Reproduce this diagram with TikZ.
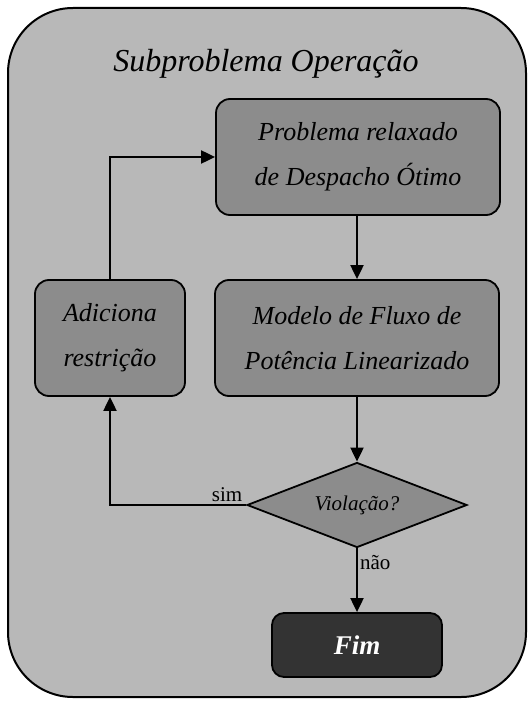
\documentclass[tikz,border=0pt]{standalone}
\usepackage{fontspec}
\setmainfont{Liberation Serif}
\usetikzlibrary{shapes.geometric,arrows.meta}

\begin{document}
\begin{tikzpicture}[x=1pt,y=-1pt,
  frame/.style={draw=black, line width=2pt, fill=black!28, rounded corners=65pt},
  procbox/.style={draw=black, line width=1.8pt, fill=black!45, rounded corners=14pt,
    minimum height=116pt, inner sep=0pt, align=center,
    font=\fontsize{26}{45}\selectfont\itshape},
  decision/.style={diamond, aspect=2.6, draw=black, line width=1.8pt, fill=black!45,
    minimum width=220pt, minimum height=85pt, inner sep=0pt,
    font=\fontsize{21}{24}\selectfont\itshape},
  endbox/.style={draw=black, line width=1.8pt, fill=black!80, rounded corners=12pt,
    minimum width=170pt, minimum height=64pt, text=white,
    font=\fontsize{27}{30}\selectfont\bfseries\itshape},
  flow/.style={draw=black, line width=2pt, -{Triangle[length=14pt,width=13pt]}},
  answer/.style={font=\fontsize{21}{24}\selectfont, inner sep=2pt}
]
  \useasboundingbox (0,0) rectangle (528,703);

  % outer panel
  \path[frame] (8,8) rectangle (526,697);
  \node[font=\fontsize{32}{36}\selectfont\itshape] (title) at (266,64) {Subproblema Operação};

  % process blocks
  \node[procbox, minimum width=284pt] (relax) at (358,157) {Problema relaxado\\de Despacho Ótimo};
  \node[procbox, minimum width=284pt] (fluxo) at (357,338) {Modelo de Fluxo de\\Potência Linearizado};
  \node[procbox, minimum width=150pt] (add) at (110,338) {Adiciona\\restrição};

  % decision and end
  \node[decision] (viol) at (357,505) {Violação?};
  \node[endbox] (fim) at (357,645) {Fim};

  % connectors
  \draw[flow] (relax.south -| fluxo.north) -- (fluxo.north);
  \draw[flow] (fluxo.south) -- (viol.north);
  \draw[flow] (viol.south) -- node[answer, right, pos=0.22] {não} (fim.north);
  \draw[flow] (viol.west) -| node[answer, above, pos=0.07] {sim} (add.south);
  \draw[flow] (add.north) |- (relax.west);
\end{tikzpicture}
\end{document}
